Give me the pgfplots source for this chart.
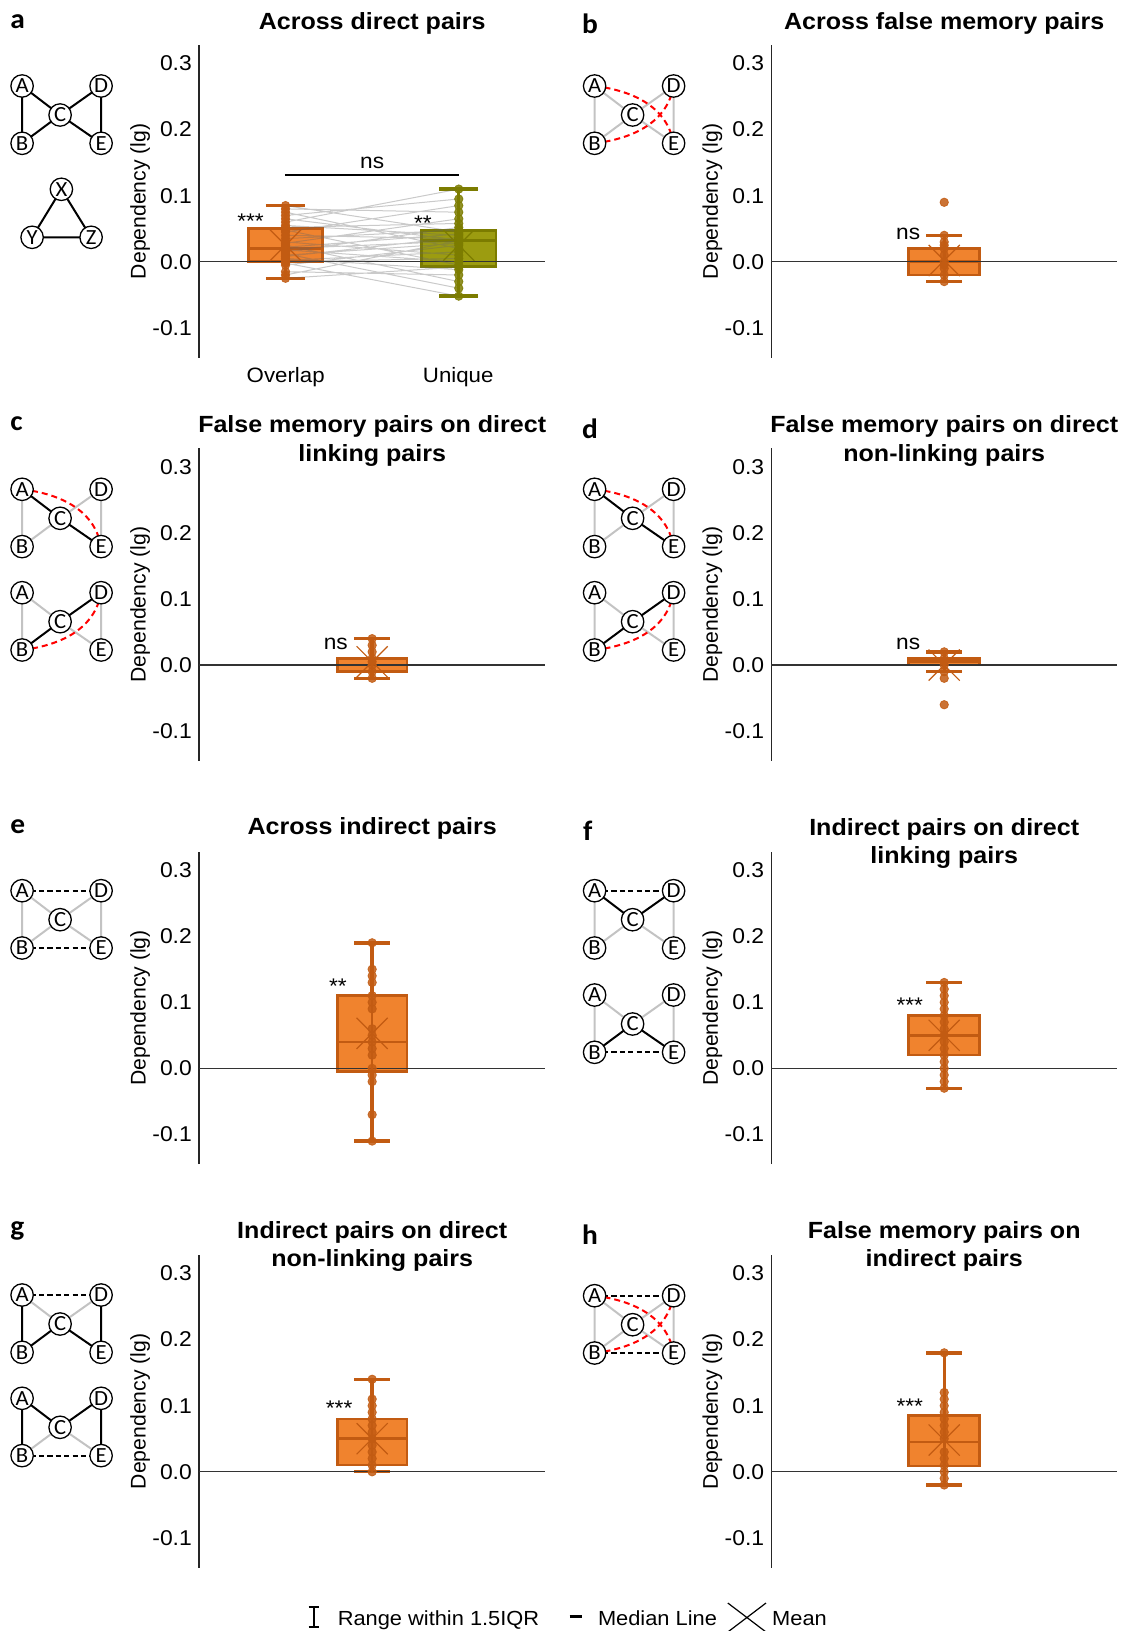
\documentclass[border=0pt]{standalone}
\usepackage{pgfplots}
\pgfplotsset{compat=1.18}
\usepgfplotslibrary{statistics}
\usepackage{fontspec}
\setmainfont{Liberation Sans}[FakeStretch=1.07]
\newfontfamily\plainsans{Liberation Sans}
\newfontfamily\carlito{Carlito}[FakeStretch=1.05]
\definecolor{ofill}{RGB}{240,131,46}
\definecolor{oedge}{RGB}{194,91,18}
\definecolor{gfill}{RGB}{156,156,16}
\definecolor{gedge}{RGB}{124,124,0}
\definecolor{egray}{RGB}{195,195,195}

\pgfplotsset{
  panel/.style={
    scale only axis, width=#1, height=156.3pt,
    xmin=0, xmax=2, ymin=-0.145, ymax=0.328,
    axis x line=none, axis y line*=left,
    y axis line style={line width=0.7pt, black!85},
    ytick={-0.1,0,0.1,0.2,0.3},
    major tick length=0pt,
    yticklabel style={font=\fontsize{10.7}{12}\selectfont},
    /pgf/number format/fixed, /pgf/number format/fixed zerofill,
    /pgf/number format/precision=1, /pgf/number format/assume math mode=true,
    clip=false, anchor=north west,
  },
  bpo/.style={draw=oedge, fill=ofill, line width=1.3pt, boxplot/draw direction=y,
    boxplot/every whisker/.style={line width=1.7pt}},
  bpg/.style={draw=gedge, fill=gfill, line width=1.3pt, boxplot/draw direction=y,
    boxplot/every whisker/.style={line width=1.7pt}},
  zl/.style={black!80, line width=0.65pt},
  wl/.style={line width=1.3pt},
  pts/.style={only marks, mark=*, mark size=2.1pt, opacity=0.85},
  mx/.style={only marks, mark=x, mark size=11pt, mark options={line width=0.6pt}},
}

\tikzset{
  ann/.style={font=\fontsize{10.6}{12}\selectfont, inner sep=0pt},
  nd/.style={circle, draw, line width=0.65pt, fill=white, inner sep=0pt,
     minimum size=11.2pt,
     font=\carlito\fontsize{10.8}{10.8}\selectfont},
  blk/.style={line width=1pt, black},
  gry/.style={line width=1pt, egray},
  dsh/.style={line width=1pt, black, dash pattern=on 2.6pt off 1.6pt},
  rdd/.style={line width=1pt, red, dash pattern=on 3pt off 2pt},
  ttl/.style={font=\bfseries\fontsize{11.7}{13}\selectfont, inner sep=0pt, anchor=base},
  lett/.style={font=\carlito\bfseries\fontsize{14}{14}\selectfont, inner sep=0pt, anchor=base west},
  ylab/.style={font=\plainsans\fontsize{10.6}{12}\selectfont, inner sep=0pt, anchor=base, rotate=90},
  lgd/.style={font=\fontsize{10.2}{12}\selectfont, inner sep=0pt, anchor=base west},
}

\newcommand\diag[3]{%
\begin{scope}[shift={(#1,#2)}]
\coordinate (A) at (0,0); \coordinate (D) at (79,0); \coordinate (C) at (38,29);
\coordinate (B) at (0,57.3); \coordinate (E) at (79,57.3);
#3
\foreach \n in {A,B,C,D,E} \node[nd] at (\n) {\n};
\end{scope}}
\newcommand\redAE{\draw[rdd] (A) .. controls (40.6,5) and (72.7,22) .. (E);}
\newcommand\redBD{\draw[rdd] (B) .. controls (40.6,52.3) and (72.7,35.3) .. (D);}

\begin{document}
\begin{tikzpicture}
\path[use as bounding box] (0,0) rectangle (565.5pt,-815.5pt);

% ---------------- a
\begin{axis}[panel=173.25pt, at={(99.45pt,-22.5pt)}]
\addplot[bpo, boxplot prepared={draw position=0.5, box extend=0.43, whisker extend=0.227,
  lower whisker=-0.025, lower quartile=0.0, median=0.02, upper quartile=0.05, upper whisker=0.085}] coordinates {};
\addplot[bpg, boxplot prepared={draw position=1.5, box extend=0.43, whisker extend=0.227,
  lower whisker=-0.052, lower quartile=-0.007, median=0.032, upper quartile=0.047, upper whisker=0.11}] coordinates {};
\addplot[zl] coordinates {(0,0) (2,0)};
\addplot[black!60, opacity=0.35, line width=0.5pt, unbounded coords=jump] coordinates {
(0.5,0.085) (1.5,0.045) (1,nan)
(0.5,0.080) (1.5,0.075) (1,nan)
(0.5,0.075) (1.5,0.020) (1,nan)
(0.5,0.070) (1.5,0.095) (1,nan)
(0.5,0.065) (1.5,0.033) (1,nan)
(0.5,0.060) (1.5,0.110) (1,nan)
(0.5,0.055) (1.5,0.040) (1,nan)
(0.5,0.052) (1.5,0.058) (1,nan)
(0.5,0.048) (1.5,-0.005) (1,nan)
(0.5,0.045) (1.5,0.085) (1,nan)
(0.5,0.040) (1.5,0.035) (1,nan)
(0.5,0.035) (1.5,0.048) (1,nan)
(0.5,0.030) (1.5,0.010) (1,nan)
(0.5,0.028) (1.5,0.065) (1,nan)
(0.5,0.025) (1.5,-0.030) (1,nan)
(0.5,0.022) (1.5,0.042) (1,nan)
(0.5,0.020) (1.5,0.031) (1,nan)
(0.5,0.018) (1.5,0.000) (1,nan)
(0.5,0.015) (1.5,0.052) (1,nan)
(0.5,0.012) (1.5,-0.040) (1,nan)
(0.5,0.010) (1.5,0.028) (1,nan)
(0.5,0.008) (1.5,0.037) (1,nan)
(0.5,0.005) (1.5,-0.012) (1,nan)
(0.5,0.002) (1.5,0.015) (1,nan)
(0.5,0.000) (1.5,0.005) (1,nan)
(0.5,-0.002) (1.5,-0.052) (1,nan)
(0.5,-0.005) (1.5,0.025) (1,nan)
(0.5,-0.015) (1.5,-0.020) (1,nan)
(0.5,-0.020) (1.5,0.032) (1,nan)
(0.5,-0.025) (1.5,-0.008)
};
\addplot[wl, oedge] coordinates {(0.5,-0.025) (0.5,0.085)};
\addplot[wl, gedge] coordinates {(1.5,-0.052) (1.5,0.11)};
\addplot[mx, oedge] coordinates {(0.5,0.025)};
\addplot[mx, gedge] coordinates {(1.5,0.025)};
\addplot[pts, oedge] coordinates {(0.5,0.085) (0.5,0.080) (0.5,0.075) (0.5,0.070) (0.5,0.065) (0.5,0.060) (0.5,0.055) (0.5,0.052) (0.5,0.048) (0.5,0.045) (0.5,0.040) (0.5,0.035) (0.5,0.030) (0.5,0.028) (0.5,0.025) (0.5,0.022) (0.5,0.020) (0.5,0.018) (0.5,0.015) (0.5,0.012) (0.5,0.010) (0.5,0.008) (0.5,0.005) (0.5,0.002) (0.5,0.000) (0.5,-0.002) (0.5,-0.005) (0.5,-0.015) (0.5,-0.020) (0.5,-0.025)};
\addplot[pts, gedge] coordinates {(1.5,0.110) (1.5,0.095) (1.5,0.085) (1.5,0.075) (1.5,0.065) (1.5,0.058) (1.5,0.052) (1.5,0.048) (1.5,0.045) (1.5,0.042) (1.5,0.040) (1.5,0.037) (1.5,0.035) (1.5,0.033) (1.5,0.032) (1.5,0.031) (1.5,0.028) (1.5,0.025) (1.5,0.020) (1.5,0.015) (1.5,0.010) (1.5,0.005) (1.5,0.000) (1.5,-0.005) (1.5,-0.008) (1.5,-0.012) (1.5,-0.020) (1.5,-0.030) (1.5,-0.040) (1.5,-0.052)};
\addplot[black, line width=0.8pt] coordinates {(0.496,0.131) (1.5,0.131)};
\node[ann, anchor=base] at (axis cs:1.0,0.141) {ns};
\node[ann, anchor=base east] at (axis cs:0.377,0.051) {***};
\node[ann, anchor=base east] at (axis cs:1.346,0.048) {**};
\end{axis}

% ---------------- b
\begin{axis}[panel=173pt, at={(385.6pt,-22.5pt)}]
\addplot[bpo, boxplot prepared={draw position=1, box extend=0.41, whisker extend=0.21,
  lower whisker=-0.03, lower quartile=-0.02, median=0.0, upper quartile=0.02, upper whisker=0.04}] coordinates {};
\addplot[zl] coordinates {(0,0) (2,0)};
\addplot[wl, oedge] coordinates {(1,-0.03) (1,0.04)};
\addplot[mx, oedge] coordinates {(1,0.002)};
\addplot[pts, oedge] coordinates {(1,0.09) (1,0.04) (1,0.03) (1,0.025) (1,0.02) (1,0.01) (1,0.0) (1,-0.005) (1,-0.01) (1,-0.02) (1,-0.03)};
\node[ann, anchor=base east] at (axis cs:0.863,0.033) {ns};
\end{axis}

% ---------------- c
\begin{axis}[panel=173.25pt, at={(99.45pt,-224.15pt)}]
\addplot[bpo, boxplot prepared={draw position=1, box extend=0.40, whisker extend=0.205,
  lower whisker=-0.02, lower quartile=-0.01, median=0.0, upper quartile=0.01, upper whisker=0.04}] coordinates {};
\addplot[zl] coordinates {(0,0) (2,0)};
\addplot[wl, oedge] coordinates {(1,-0.02) (1,0.04)};
\addplot[mx, oedge] coordinates {(1,0.005)};
\addplot[pts, oedge] coordinates {(1,0.04) (1,0.03) (1,0.02) (1,0.01) (1,0.005) (1,0.0) (1,-0.01) (1,-0.02)};
\node[ann, anchor=base east] at (axis cs:0.862,0.024) {ns};
\end{axis}

% ---------------- d
\begin{axis}[panel=173pt, at={(385.6pt,-224.15pt)}]
\addplot[bpo, boxplot prepared={draw position=1, box extend=0.41, whisker extend=0.21,
  lower whisker=-0.01, lower quartile=0.0, median=0.005, upper quartile=0.01, upper whisker=0.02}] coordinates {};
\addplot[zl] coordinates {(0,0) (2,0)};
\addplot[wl, oedge] coordinates {(1,-0.01) (1,0.02)};
\addplot[mx, oedge] coordinates {(1,0.0)};
\addplot[pts, oedge] coordinates {(1,0.02) (1,0.01) (1,0.005) (1,0.0) (1,-0.01) (1,-0.02) (1,-0.06)};
\node[ann, anchor=base east] at (axis cs:0.863,0.024) {ns};
\end{axis}

% ---------------- e
\begin{axis}[panel=173.25pt, at={(99.45pt,-425.8pt)}]
\addplot[bpo, boxplot prepared={draw position=1, box extend=0.40, whisker extend=0.205,
  lower whisker=-0.11, lower quartile=-0.005, median=0.04, upper quartile=0.11, upper whisker=0.19}] coordinates {};
\addplot[zl] coordinates {(0,0) (2,0)};
\addplot[wl, oedge] coordinates {(1,-0.11) (1,0.19)};
\addplot[mx, oedge] coordinates {(1,0.053)};
\addplot[pts, oedge] coordinates {(1,0.19) (1,0.15) (1,0.14) (1,0.13) (1,0.11) (1,0.10) (1,0.09) (1,0.06) (1,0.05) (1,0.04) (1,0.03) (1,0.02) (1,0.0) (1,-0.01) (1,-0.02) (1,-0.07) (1,-0.11)};
\node[ann, anchor=base east] at (axis cs:0.856,0.113) {**};
\end{axis}

% ---------------- f
\begin{axis}[panel=173pt, at={(385.6pt,-425.8pt)}]
\addplot[bpo, boxplot prepared={draw position=1, box extend=0.41, whisker extend=0.21,
  lower whisker=-0.03, lower quartile=0.02, median=0.05, upper quartile=0.08, upper whisker=0.13}] coordinates {};
\addplot[zl] coordinates {(0,0) (2,0)};
\addplot[wl, oedge] coordinates {(1,-0.03) (1,0.13)};
\addplot[mx, oedge] coordinates {(1,0.05)};
\addplot[pts, oedge] coordinates {(1,0.13) (1,0.12) (1,0.11) (1,0.10) (1,0.09) (1,0.08) (1,0.07) (1,0.06) (1,0.05) (1,0.04) (1,0.03) (1,0.02) (1,0.01) (1,0.0) (1,-0.01) (1,-0.02) (1,-0.03)};
\node[ann, anchor=base east] at (axis cs:0.88,0.084) {***};
\end{axis}

% ---------------- g
\begin{axis}[panel=173.25pt, at={(99.45pt,-627.5pt)}]
\addplot[bpo, boxplot prepared={draw position=1, box extend=0.40, whisker extend=0.205,
  lower whisker=0.0, lower quartile=0.01, median=0.05, upper quartile=0.08, upper whisker=0.14}] coordinates {};
\addplot[zl] coordinates {(0,0) (2,0)};
\addplot[wl, oedge] coordinates {(1,0.0) (1,0.14)};
\addplot[mx, oedge] coordinates {(1,0.05)};
\addplot[pts, oedge] coordinates {(1,0.14) (1,0.11) (1,0.10) (1,0.09) (1,0.08) (1,0.07) (1,0.06) (1,0.05) (1,0.04) (1,0.03) (1,0.02) (1,0.01) (1,0.0)};
\node[ann, anchor=base east] at (axis cs:0.888,0.085) {***};
\end{axis}

% ---------------- h
\begin{axis}[panel=173pt, at={(385.6pt,-627.5pt)}]
\addplot[bpo, boxplot prepared={draw position=1, box extend=0.41, whisker extend=0.21,
  lower whisker=-0.02, lower quartile=0.009, median=0.045, upper quartile=0.085, upper whisker=0.18}] coordinates {};
\addplot[zl] coordinates {(0,0) (2,0)};
\addplot[wl, oedge] coordinates {(1,-0.02) (1,0.18)};
\addplot[mx, oedge] coordinates {(1,0.048)};
\addplot[pts, oedge] coordinates {(1,0.18) (1,0.12) (1,0.11) (1,0.10) (1,0.09) (1,0.08) (1,0.07) (1,0.06) (1,0.05) (1,0.03) (1,0.02) (1,0.01) (1,0.0) (1,-0.01) (1,-0.02)};
\node[ann, anchor=base east] at (axis cs:0.88,0.088) {***};
\end{axis}

% ---------------- text and diagrams in pixel units
\begin{scope}[x=0.5pt, y=-0.5pt]
\node[lett] at (10,28.3) {a};
\node[lett] at (581.8,33.3) {b};
\node[lett] at (10,430.7) {c};
\node[lett] at (581.8,438.3) {d};
\node[lett] at (10,833.3) {e};
\node[lett] at (582.6,840.7) {f};
\node[lett] at (10,1235) {g};
\node[lett] at (581.8,1244.3) {h};

\node[ttl] at (372.2,29.3) {Across direct pairs};
\node[ttl] at (944.2,29.3) {Across false memory pairs};
\node[ttl] at (372.2,432.7) {False memory pairs on direct};
\node[ttl] at (372.2,461.7) {linking pairs};
\node[ttl] at (944.2,432.7) {False memory pairs on direct};
\node[ttl] at (944.2,461.7) {non-linking pairs};
\node[ttl] at (372.2,834.3) {Across indirect pairs};
\node[ttl] at (944.2,835) {Indirect pairs on direct};
\node[ttl] at (944.2,863.3) {linking pairs};
\node[ttl] at (372.2,1238.3) {Indirect pairs on direct};
\node[ttl] at (372.2,1266.7) {non-linking pairs};
\node[ttl] at (944.2,1238.3) {False memory pairs on};
\node[ttl] at (944.2,1266.7) {indirect pairs};

\foreach \yy in {201.3,604.6,1007.9,1411.3}{
  \node[ylab] at (145.6,\yy) {Dependency (lg)};
  \node[ylab] at (717.9,\yy) {Dependency (lg)};
}
\node[font=\fontsize{10.4}{12}\selectfont, inner sep=0pt, anchor=base] at (285.7,382.7) {Overlap};
\node[font=\fontsize{10.4}{12}\selectfont, inner sep=0pt, anchor=base] at (458.2,382.7) {Unique};

% diagrams
\diag{22.1}{86}{\draw[blk] (A)--(B) (A)--(C) (B)--(C) (C)--(D) (C)--(E) (D)--(E);}
\begin{scope}
\coordinate (X) at (61.4,189.3); \coordinate (Y) at (32.1,237.3); \coordinate (Z) at (91.1,237.3);
\draw[blk] (X)--(Y)--(Z)--cycle;
\foreach \n in {X,Y,Z} \node[nd] at (\n) {\n};
\end{scope}
\diag{594.6}{86}{\draw[gry] (A)--(B) (A)--(C) (B)--(C) (C)--(D) (C)--(E) (D)--(E); \redAE \redBD}
\diag{22.1}{489.3}{\draw[gry] (A)--(B) (B)--(C) (C)--(D) (D)--(E); \draw[blk] (A)--(C) (C)--(E); \redAE}
\diag{22.1}{592.7}{\draw[gry] (A)--(B) (A)--(C) (C)--(E) (D)--(E); \draw[blk] (B)--(C) (C)--(D); \redBD}
\diag{594.6}{489.3}{\draw[gry] (A)--(B) (B)--(C) (C)--(D) (D)--(E); \draw[blk] (A)--(C) (C)--(E); \redAE}
\diag{594.6}{592.7}{\draw[gry] (A)--(B) (A)--(C) (C)--(E) (D)--(E); \draw[blk] (B)--(C) (C)--(D); \redBD}
\diag{22.1}{890.7}{\draw[gry] (A)--(B) (A)--(C) (B)--(C) (C)--(D) (C)--(E) (D)--(E); \draw[dsh] (A)--(D) (B)--(E);}
\diag{594.6}{890.7}{\draw[gry] (A)--(B) (B)--(C) (C)--(E) (D)--(E); \draw[blk] (A)--(C) (C)--(D); \draw[dsh] (A)--(D);}
\diag{594.6}{995}{\draw[gry] (A)--(B) (A)--(C) (C)--(D) (D)--(E); \draw[blk] (B)--(C) (C)--(E); \draw[dsh] (B)--(E);}
\diag{22.1}{1295}{\draw[gry] (A)--(C) (C)--(D); \draw[blk] (A)--(B) (B)--(C) (C)--(E) (D)--(E); \draw[dsh] (A)--(D);}
\diag{22.1}{1398.3}{\draw[gry] (B)--(C) (C)--(E); \draw[blk] (A)--(B) (A)--(C) (C)--(D) (D)--(E); \draw[dsh] (B)--(E);}
\diag{594.6}{1295.7}{\draw[gry] (A)--(B) (A)--(C) (B)--(C) (C)--(D) (C)--(E) (D)--(E); \draw[dsh] (A)--(D) (B)--(E); \redAE \redBD}

% legend
\draw[line width=1.1pt] (313.7,1607) -- (313.7,1627) (308.7,1607) -- (318.7,1607) (308.7,1627) -- (318.7,1627);
\node[lgd] at (337.4,1625) {Range within 1.5IQR};
\draw[line width=1.3pt] (569.7,1616.5) -- (582.3,1616.5);
\node[lgd] at (597.6,1625) {Median Line};
\draw[line width=0.6pt] (727.8,1603) -- (766,1632) (727.8,1632) -- (766,1603);
\node[lgd] at (771.8,1625) {Mean};
\end{scope}
\end{tikzpicture}
\end{document}
